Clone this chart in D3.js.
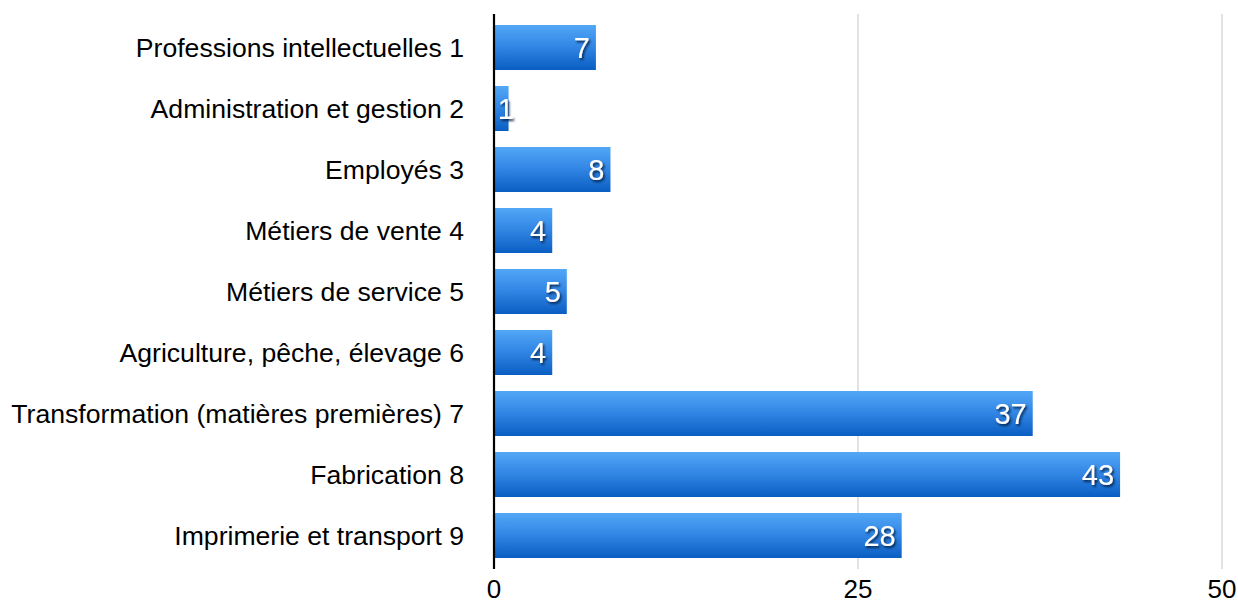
<!DOCTYPE html>
<html><head><meta charset="utf-8">
<script src="https://cdn.jsdelivr.net/npm/d3@7"></script>
<style>body{margin:0;background:#fff}svg{display:block}text{font-family:"Liberation Sans",Arial,Helvetica,sans-serif}</style>
</head><body><svg id="c" width="1238" height="603"></svg>
<script>
const categories = ["Professions intellectuelles 1","Administration et gestion 2","Employés 3","Métiers de vente 4","Métiers de service 5","Agriculture, pêche, élevage 6","Transformation (matières premières) 7","Fabrication 8","Imprimerie et transport 9"];
const values = [7,1,8,4,5,4,37,43,28];
const xTicks = [0,25,50];

const svg = d3.select("#c");
const x = d3.scaleLinear().domain([0,50]).range([494,1222]);
const y = d3.scaleBand().domain(categories).range([17,566]).paddingInner(0.262).paddingOuter(0.131);

const defs = svg.append("defs");
const g = defs.append("linearGradient").attr("id","bg").attr("x1",0).attr("y1",0).attr("x2",0).attr("y2",1);
g.append("stop").attr("offset","0%").attr("stop-color","#52a7f6");
g.append("stop").attr("offset","45%").attr("stop-color","#3488e6");
g.append("stop").attr("offset","100%").attr("stop-color","#0a5ec2");
const f = defs.append("filter").attr("id","sh").attr("x","-20%").attr("y","-20%").attr("width","150%").attr("height","150%");
f.append("feDropShadow").attr("dx",1.5).attr("dy",2).attr("stdDeviation",1.2).attr("flood-color","#001a40").attr("flood-opacity",0.9);

// grid
svg.append("g").selectAll("line").data(xTicks.filter(d=>d>0)).join("line")
  .attr("x1",d=>x(d)).attr("x2",d=>x(d)).attr("y1",14).attr("y2",569)
  .attr("stroke","#cfcfcf").attr("stroke-width",1.2);

// x tick labels
svg.append("g").selectAll("text").data(xTicks).join("text")
  .attr("x",d=>x(d)).attr("y",598).attr("text-anchor","middle")
  .attr("font-size",26).attr("fill","#000").text(d=>d);

// bars
svg.append("g").selectAll("rect").data(values).join("rect")
  .attr("x",x(0)).attr("y",(d,i)=>y(categories[i]))
  .attr("width",d=>x(d)-x(0)).attr("height",y.bandwidth())
  .attr("fill","url(#bg)");

// axis line
svg.append("line").attr("x1",x(0)).attr("x2",x(0)).attr("y1",14).attr("y2",569)
  .attr("stroke","#000").attr("stroke-width",2.2);

// category labels
svg.append("g").selectAll("text").data(categories).join("text")
  .attr("x",464).attr("y",d=>y(d)+y.bandwidth()/2).attr("dy","0.35em")
  .attr("text-anchor","end").attr("font-size",26.6).attr("fill","#000").text(d=>d);

// value labels
svg.append("g").selectAll("text").data(values).join("text")
  .attr("x",d=>Math.max(x(d)-6, x(0)+20)).attr("y",(d,i)=>y(categories[i])+y.bandwidth()/2).attr("dy","0.36em")
  .attr("text-anchor","end").attr("font-size",29).attr("fill","#fff")
  .attr("filter","url(#sh)").text(d=>d);
</script></body></html>
